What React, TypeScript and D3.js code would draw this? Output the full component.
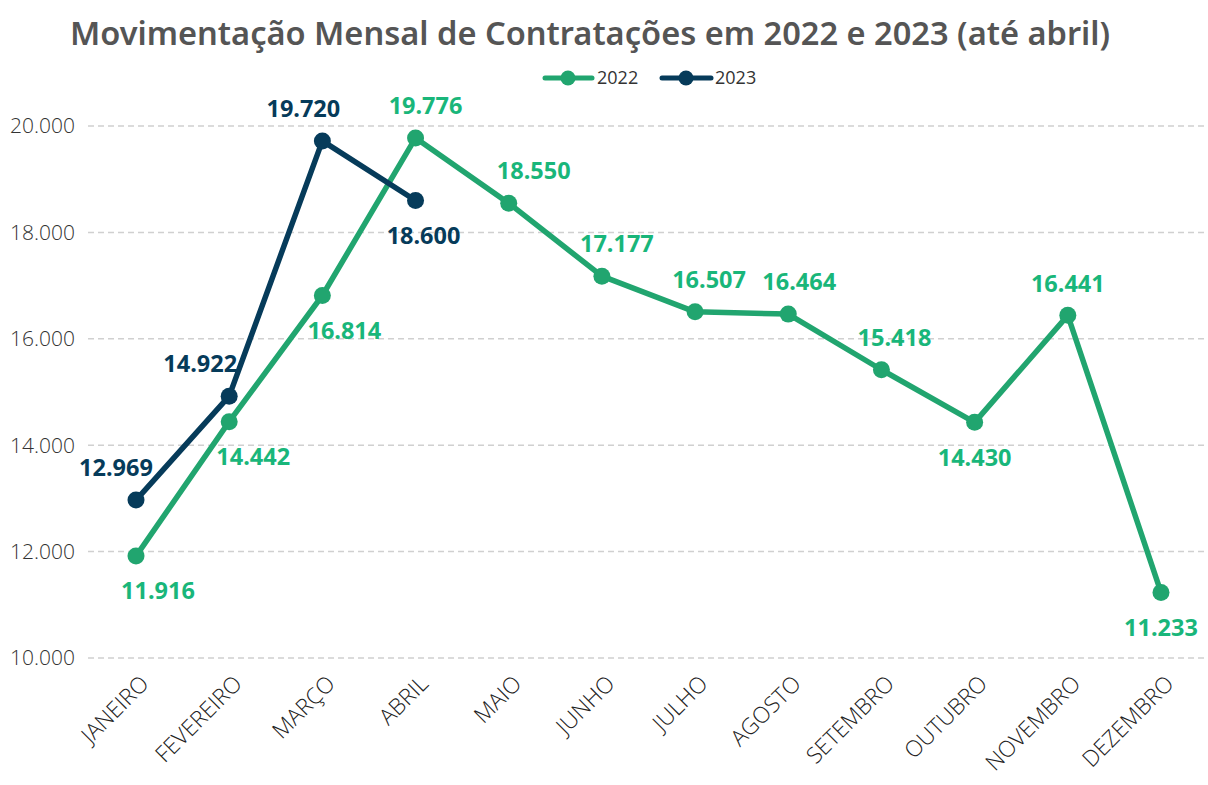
import React from "react";
import * as d3 from "d3";

const months = ["JANEIRO", "FEVEREIRO", "MARÇO", "ABRIL", "MAIO", "JUNHO", "JULHO", "AGOSTO", "SETEMBRO", "OUTUBRO", "NOVEMBRO", "DEZEMBRO"];
const values2022 = [11916, 14442, 16814, 19776, 18550, 17177, 16507, 16464, 15418, 14430, 16441, 11233];
const values2023 = [12969, 14922, 19720, 18600];
const yTicks = [10000, 12000, 14000, 16000, 18000, 20000];

// label layout (not data): side and horizontal nudge
const place2022: [string, number][] = [["b", 22], ["b", 24], ["b", 22], ["a", 10], ["a", 25], ["a", 15], ["a", 14], ["a", 11], ["a", 13], ["b", 0], ["a", 0], ["b", 0]];
const place2023: [string, number][] = [["a", -20], ["a", -29], ["a", -19], ["b", 8]];

const W = 1208, H = 785;
const GREEN = "#21a56f";
const GREEN_TXT = "#19b67a";
const NAVY = "#063b5a";
const fmt = (v: number) => d3.format(",")(v).replace(/,/g, ".");

export default function App() {
  const x = d3.scalePoint<string>().domain(months).range([136, 1161]);
  const y = d3.scaleLinear().domain([10000, 20000]).range([658, 126]);
  const line = d3.line<number>().x((_, i) => x(months[i])!).y(d => y(d));

  const labels = (vals: number[], place: [string, number][], color: string) =>
    vals.map((v, i) => {
      const [side, dx] = place[i];
      const px = x(months[i])! + dx;
      const py = y(v) + (side === "a" ? -32 : 35);
      return (
        <text key={i} x={px} y={py} dy="0.35em" textAnchor="middle" fill={color}
          fontFamily="'Noto Sans', sans-serif" fontWeight={700} fontSize={23.5}>{fmt(v)}</text>
      );
    });

  return (
    <svg width={W} height={H} style={{ position: "fixed", left: 0, top: 0, background: "#fff" }}>
      <text x={590} y={45} textAnchor="middle" fill="#555" fontFamily="'Noto Sans', sans-serif" fontWeight={600} fontSize={32.6}>
        Movimentação Mensal de Contratações em 2022 e 2023 (até abril)
      </text>
      {/* legend */}
      <g fontFamily="'Open Sans', sans-serif" fontSize={18} fill="#333">
        <line x1={545} x2={592} y1={78} y2={78} stroke={GREEN} strokeWidth={5} strokeLinecap="round" />
        <circle cx={568} cy={78} r={7.5} fill={GREEN} />
        <text x={597} y={78} dy="0.35em">2022</text>
        <line x1={662} x2={711} y1={78} y2={78} stroke={NAVY} strokeWidth={5} strokeLinecap="round" />
        <circle cx={686} cy={78} r={7.5} fill={NAVY} />
        <text x={715} y={78} dy="0.35em">2023</text>
      </g>
      {/* grid + y axis */}
      {yTicks.map(t => (
        <g key={t}>
          <line x1={88} x2={1208} y1={y(t)} y2={y(t)} stroke="#d0d0d0" strokeWidth={1.5} strokeDasharray="6,4" />
          <text x={75} y={y(t)} dy="0.35em" textAnchor="end" fill="#333" fontFamily="'Open Sans', sans-serif" fontWeight={300} fontSize={21}>{fmt(t)}</text>
        </g>
      ))}
      {/* x axis labels */}
      {months.map(m => (
        <text key={m} transform={`translate(${x(m)! + 3},${674}) rotate(-45)`} textAnchor="end" dy="0.7em"
          fill="#222" fontFamily="'Open Sans', sans-serif" fontWeight={300} fontSize={22.5}>{m}</text>
      ))}
      {/* lines */}
      <path d={line(values2022)!} fill="none" stroke={GREEN} strokeWidth={5.5} strokeLinejoin="round" />
      {values2022.map((v, i) => <circle key={i} cx={x(months[i])} cy={y(v)} r={8.5} fill={GREEN} />)}
      <path d={line(values2023)!} fill="none" stroke={NAVY} strokeWidth={5.5} strokeLinejoin="round" />
      {values2023.map((v, i) => <circle key={i} cx={x(months[i])} cy={y(v)} r={8.5} fill={NAVY} />)}
      {labels(values2022, place2022, GREEN_TXT)}
      {labels(values2023, place2023, NAVY)}
    </svg>
  );
}
